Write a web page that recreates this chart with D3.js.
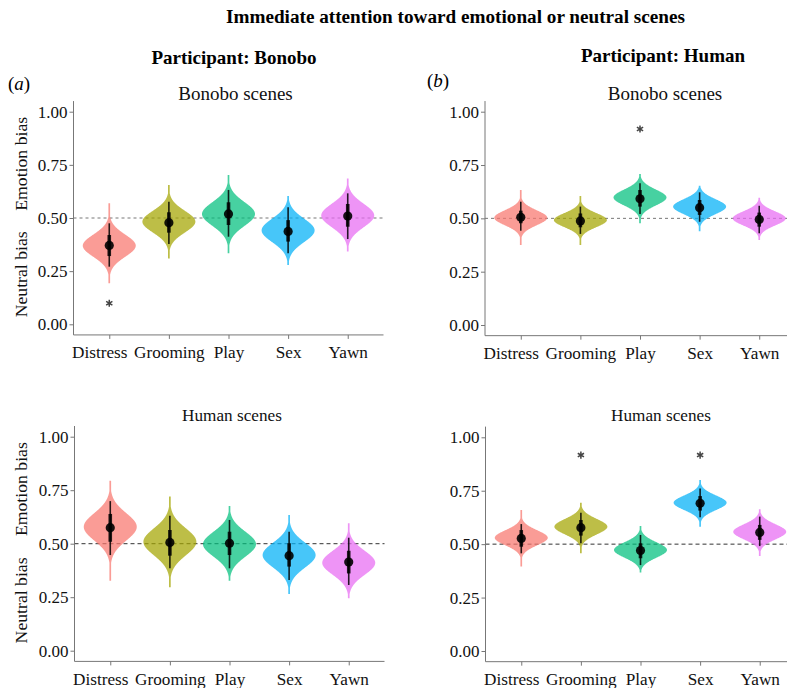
<!DOCTYPE html>
<html>
<head>
<meta charset="utf-8">
<script src="https://cdn.jsdelivr.net/npm/d3@7"></script>
<style>
  html, body { margin: 0; padding: 0; background: #fff; }
  svg text { font-family: "Liberation Serif", "Times New Roman", serif; }
</style>
</head>
<body>
<svg id="chart" width="787" height="688"></svg>
<script>
// ---------------- DATA ----------------
const categories = ["Distress", "Grooming", "Play", "Sex", "Yawn"];
const yTicks = [0, 0.25, 0.5, 0.75, 1.0];
const colors = ["#F8766D", "#A3A500", "#00BF7D", "#00B0F6", "#E76BF3"];

// (a) Participant: Bonobo — Bonobo scenes
const aBonMedian = [0.371, 0.478, 0.519, 0.437, 0.509];
const aBonPeak   = [0.370, 0.483, 0.519, 0.442, 0.512];
const aBonSpread = [0.052, 0.051, 0.056, 0.055, 0.055];
const aBonThick  = [[0.321, 0.420], [0.431, 0.527], [0.467, 0.574], [0.389, 0.490], [0.459, 0.566]];
const aBonThin   = [[0.271, 0.475], [0.378, 0.577], [0.412, 0.632], [0.334, 0.550], [0.401, 0.616]];
const aBonTails  = [[0.193, 0.569], [0.310, 0.655], [0.334, 0.702], [0.279, 0.603], [0.342, 0.686]];
const aBonStars  = [0.099, null, null, null, null];

// (a) Participant: Bonobo — Human scenes
const aHumMedian = [0.575, 0.506, 0.502, 0.444, 0.414];
const aHumPeak   = [0.579, 0.509, 0.498, 0.447, 0.411];
const aHumSpread = [0.064, 0.063, 0.058, 0.058, 0.056];
const aHumThick  = [[0.509, 0.639], [0.444, 0.564], [0.447, 0.556], [0.393, 0.502], [0.361, 0.467]];
const aHumThin   = [[0.447, 0.699], [0.385, 0.631], [0.385, 0.611], [0.330, 0.556], [0.307, 0.528]];
const aHumTails  = [[0.327, 0.794], [0.296, 0.720], [0.327, 0.676], [0.265, 0.634], [0.245, 0.595]];
const aHumStars  = [null, null, null, null, null];

// (b) Participant: Human — Bonobo scenes
const bBonMedian = [0.505, 0.488, 0.592, 0.550, 0.495];
const bBonPeak   = [0.503, 0.492, 0.598, 0.555, 0.500];
const bBonSpread = [0.035, 0.033, 0.037, 0.035, 0.033];
const bBonThick  = [[0.477, 0.536], [0.458, 0.523], [0.555, 0.633], [0.516, 0.586], [0.461, 0.527]];
const bBonThin   = [[0.442, 0.578], [0.427, 0.555], [0.520, 0.664], [0.484, 0.622], [0.430, 0.559]];
const bBonTails  = [[0.375, 0.633], [0.375, 0.605], [0.477, 0.708], [0.440, 0.653], [0.398, 0.597]];
const bBonStars  = [null, null, 0.919, null, null];

// (b) Participant: Human — Human scenes
const bHumMedian = [0.527, 0.577, 0.470, 0.691, 0.555];
const bHumPeak   = [0.530, 0.582, 0.473, 0.694, 0.558];
const bHumSpread = [0.035, 0.036, 0.036, 0.034, 0.035];
const bHumThick  = [[0.488, 0.566], [0.540, 0.613], [0.434, 0.504], [0.657, 0.725], [0.520, 0.590]];
const bHumThin   = [[0.457, 0.594], [0.504, 0.647], [0.402, 0.543], [0.626, 0.760], [0.491, 0.629]];
const bHumTails  = [[0.395, 0.660], [0.457, 0.694], [0.367, 0.585], [0.582, 0.800], [0.445, 0.663]];
const bHumStars  = [null, 0.917, null, 0.917, null];

// ---------------- LAYOUT ----------------
const svg = d3.select("#chart");
const FONT = "'Liberation Serif', 'Times New Roman', serif";

const panels = [
  { title: "Bonobo scenes", tfs: 19, x0: 73.5, y1: 111.7, y0: 324.3, ylab: true, dash: "#777", dashArr: "3,3",
    median: aBonMedian, peak: aBonPeak, spread: aBonSpread, thick: aBonThick, thin: aBonThin, tails: aBonTails, stars: aBonStars, titleX: 235.5, titleY: 100 },
  { title: "Bonobo scenes", tfs: 19, x0: 485, y1: 111.7, y0: 325, ylab: false, dash: "#777", dashArr: "3,3",
    median: bBonMedian, peak: bBonPeak, spread: bBonSpread, thick: bBonThick, thin: bBonThin, tails: bBonTails, stars: bBonStars, titleX: 665, titleY: 99.5 },
  { title: "Human scenes", tfs: 17.2, x0: 74.5, y1: 436.7, y0: 650.7, ylab: true, dash: "#333", dashArr: "4,3",
    median: aHumMedian, peak: aHumPeak, spread: aHumSpread, thick: aHumThick, thin: aHumThin, tails: aHumTails, stars: aHumStars, titleX: 232, titleY: 421 },
  { title: "Human scenes", tfs: 17.2, x0: 485.5, y1: 437.3, y0: 651, ylab: false, dash: "#333", dashArr: "4,3",
    median: bHumMedian, peak: bHumPeak, spread: bHumSpread, thick: bHumThick, thin: bHumThin, tails: bHumTails, stars: bHumStars, titleX: 661, titleY: 421 }
];

const PANEL_W = 310;
const HALF_W = 26.5;

panels.forEach(p => {
  const unit = p.y0 - p.y1;
  const y = d3.scaleLinear().domain([-0.05, 1.05]).range([p.y0 + 0.05 * unit, p.y1 - 0.05 * unit]);
  const x = d3.scalePoint().domain(categories).range([p.x0, p.x0 + PANEL_W]).padding(0.6);
  const g = svg.append("g");

  // reference line at 0.5
  g.append("line")
    .attr("x1", p.x0).attr("x2", p.x0 + PANEL_W)
    .attr("y1", y(0.5)).attr("y2", y(0.5))
    .attr("stroke", p.dash).attr("stroke-width", 1).attr("stroke-dasharray", p.dashArr);

  // violins
  categories.forEach((c, i) => {
    const cx = x(c);
    const [lo, hi] = p.tails[i];
    const steps = d3.range(lo, hi, 0.0015).concat([hi]);
    const prof = steps.map(v => {
      const z = (v - p.peak[i]) / p.spread[i];
      return { v, w: Math.max(0.85, HALF_W * Math.exp(-0.5 * z * z)) };
    });
    const area = d3.area()
      .y(d => y(d.v))
      .x0(d => cx - d.w)
      .x1(d => cx + d.w)
      .curve(d3.curveBasis);
    g.append("path")
      .attr("d", area(prof))
      .attr("fill", colors[i])
      .attr("fill-opacity", 0.72);

    // thin interval
    g.append("line")
      .attr("x1", cx).attr("x2", cx)
      .attr("y1", y(p.thin[i][0])).attr("y2", y(p.thin[i][1]))
      .attr("stroke", "#000").attr("stroke-opacity", 0.85).attr("stroke-width", 1.6);
    // thick interval
    g.append("line")
      .attr("x1", cx).attr("x2", cx)
      .attr("y1", y(p.thick[i][0])).attr("y2", y(p.thick[i][1]))
      .attr("stroke", "#000").attr("stroke-opacity", 0.85).attr("stroke-width", 3.6);
    // median point
    g.append("circle")
      .attr("cx", cx).attr("cy", y(p.median[i])).attr("r", 4.6)
      .attr("fill", "#000").attr("fill-opacity", 0.9);

    // significance star
    if (p.stars[i] != null) {
      const sy = y(p.stars[i]);
      const r = 3.6;
      let d = "";
      [90, 30, -30].forEach(a => {
        const t = a * Math.PI / 180;
        d += `M${cx - r * Math.cos(t)},${sy - r * Math.sin(t)}L${cx + r * Math.cos(t)},${sy + r * Math.sin(t)}`;
      });
      g.append("path").attr("d", d).attr("stroke", "#444").attr("stroke-width", 1.5).attr("fill", "none");
    }
  });

  // y axis
  const yAxis = d3.axisLeft(y).tickValues(yTicks).tickFormat(d3.format(".2f")).tickSize(4).tickSizeOuter(0);
  const ya = g.append("g").attr("transform", `translate(${p.x0},0)`).call(yAxis);
  ya.select(".domain").attr("stroke", "#777").attr("d", `M0,${y(-0.05)}V${y(1.05)}`);
  ya.selectAll(".tick line").attr("stroke", "#777");
  ya.selectAll(".tick text").attr("font-family", FONT).attr("font-size", 17).attr("fill", "#111").attr("x", -6);

  // x axis
  const xAxis = d3.axisBottom(x).tickSize(4).tickSizeOuter(0);
  const xa = g.append("g").attr("transform", `translate(0,${y(-0.05)})`).call(xAxis);
  xa.select(".domain").attr("stroke", "#777").attr("d", `M${p.x0},0H${p.x0 + PANEL_W}`);
  xa.selectAll(".tick line").attr("stroke", "#777");
  xa.selectAll(".tick text").attr("font-family", FONT).attr("font-size", 17.2).attr("fill", "#111")
    .attr("dy", "0.95em")
    .attr("dx", d => d === "Distress" ? -10 : 0);

  // panel title
  g.append("text").attr("x", p.titleX).attr("y", p.titleY)
    .attr("text-anchor", "middle").attr("font-size", p.tfs).attr("fill", "#111").text(p.title);

  // y labels
  if (p.ylab) {
    g.append("text").attr("transform", `translate(27,${y(0.755)}) rotate(-90)`)
      .attr("text-anchor", "middle").attr("font-size", 17.7).attr("fill", "#111").text("Emotion bias");
    g.append("text").attr("transform", `translate(27,${y(0.235)}) rotate(-90)`)
      .attr("text-anchor", "middle").attr("font-size", 17.7).attr("fill", "#111").text("Neutral bias");
  }
});

// titles
svg.append("text").attr("x", 455.5).attr("y", 23).attr("text-anchor", "middle")
  .attr("font-weight", "bold").attr("font-size", 19.2).attr("fill", "#000")
  .text("Immediate attention toward emotional or neutral scenes");
svg.append("text").attr("x", 234).attr("y", 64).attr("text-anchor", "middle")
  .attr("font-weight", "bold").attr("font-size", 19).attr("fill", "#000").text("Participant: Bonobo");
svg.append("text").attr("x", 663).attr("y", 62).attr("text-anchor", "middle")
  .attr("font-weight", "bold").attr("font-size", 19).attr("fill", "#000").text("Participant: Human");

// panel letters
const la = svg.append("text").attr("x", 8).attr("y", 90).attr("font-size", 19).attr("fill", "#000");
la.append("tspan").text("(");
la.append("tspan").attr("font-style", "italic").text("a");
la.append("tspan").text(")");
const lb = svg.append("text").attr("x", 427).attr("y", 87).attr("font-size", 19).attr("fill", "#000");
lb.append("tspan").text("(");
lb.append("tspan").attr("font-style", "italic").text("b");
lb.append("tspan").text(")");
</script>
</body>
</html>
